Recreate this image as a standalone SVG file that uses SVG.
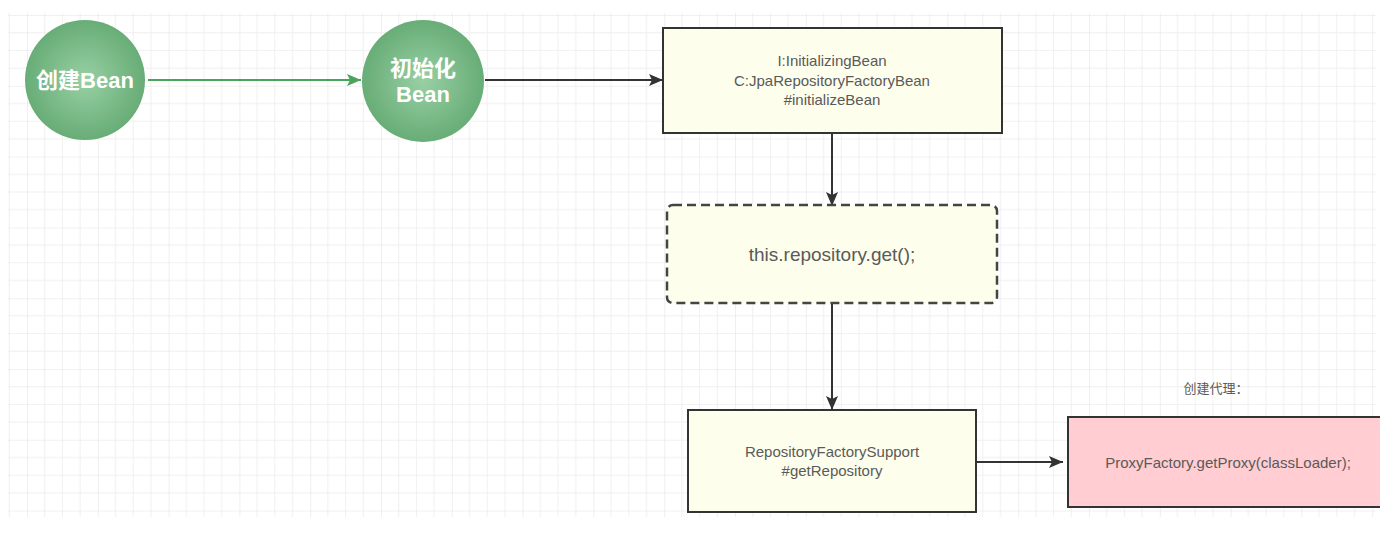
<svg xmlns="http://www.w3.org/2000/svg" width="1400" height="534" viewBox="0 0 1400 534">
  <defs>
    <pattern id="grid" patternUnits="userSpaceOnUse" x="27" y="15" width="70.8" height="70.8">
      <path d="M17.7 0V70.8M35.4 0V70.8M53.1 0V70.8M0 17.7H70.8M0 35.4H70.8M0 53.1H70.8" stroke="#f0f0f0" stroke-width="1" fill="none"/>
      <path d="M0 0V70.8M0 0H70.8" stroke="#e4e4e4" stroke-width="1.2" fill="none"/>
    </pattern>
    <radialGradient id="green" cx="50%" cy="50%" r="55%">
      <stop offset="0" stop-color="#98d0a4"/>
      <stop offset="1" stop-color="#63a972"/>
    </radialGradient>
    <marker id="ah" viewBox="0 0 14 12" refX="14" refY="6" markerWidth="14" markerHeight="12" markerUnits="userSpaceOnUse" orient="auto">
      <path d="M0 0L14 6L0 12L3 6z" fill="#333"/>
    </marker>
    <marker id="ahg" viewBox="0 0 14 12" refX="14" refY="6" markerWidth="14" markerHeight="12" markerUnits="userSpaceOnUse" orient="auto">
      <path d="M0 0L14 6L0 12L3 6z" fill="#4aa35a"/>
    </marker>
  </defs>
  <style>
    .circ { fill: url(#green); }
    .ctext { font-family: "Liberation Sans", "Noto Sans CJK SC", sans-serif; font-weight: bold; font-size: 22px; fill: #ffffff; text-anchor: middle; }
    .box { fill: #fefeec; stroke: #333; stroke-width: 2; }
    .dash { fill: #fefeec; stroke: #444; stroke-width: 2.5; stroke-dasharray: 9 5; }
    .t { font-family: "Liberation Sans", "Noto Sans CJK SC", sans-serif; font-size: 15px; fill: #5a5a5a; text-anchor: middle; }
    .conn { stroke: #333; stroke-width: 2; fill: none; marker-end: url(#ah); }
    .conng { stroke: #4aa35a; stroke-width: 2; fill: none; marker-end: url(#ahg); }
  </style>
  <rect width="1400" height="534" fill="#ffffff"/>
  <rect x="8" y="13" width="1368" height="504" fill="url(#grid)"/>

  <g id="connectors">
    <line class="conng" x1="148" y1="80" x2="361" y2="80"/>
    <line class="conn" x1="485" y1="80" x2="663" y2="80"/>
    <line class="conn" x1="832" y1="133" x2="832" y2="206"/>
    <line class="conn" x1="832" y1="304" x2="832" y2="410"/>
    <line class="conn" x1="976" y1="462" x2="1063" y2="462"/>
  </g>

  <g id="create-bean">
    <circle class="circ" cx="85" cy="80" r="60"/>
    <text class="ctext" x="85" y="88">创建Bean</text>
  </g>

  <g id="init-bean">
    <circle class="circ" cx="423" cy="81" r="61"/>
    <text class="ctext" x="423" y="76">初始化</text>
    <text class="ctext" x="423" y="102">Bean</text>
  </g>

  <g id="initializing-bean">
    <rect class="box" x="663" y="28" width="339" height="105"/>
    <text class="t" x="832" y="66">I:InitializingBean</text>
    <text class="t" x="832" y="86">C:JpaRepositoryFactoryBean</text>
    <text class="t" x="832" y="105">#initializeBean</text>
  </g>

  <g id="repository-get">
    <rect class="dash" x="667" y="205" width="330" height="98" rx="6"/>
    <text class="t" x="832" y="261" style="font-size:19px">this.repository.get();</text>
  </g>

  <g id="factory-support">
    <rect class="box" x="688" y="410" width="288" height="102"/>
    <text class="t" x="832" y="457">RepositoryFactorySupport</text>
    <text class="t" x="832" y="476">#getRepository</text>
  </g>

  <g id="proxy">
    <text class="t" x="1216" y="393" style="font-size:13px">创建代理：</text>
    <rect x="1068" y="417" width="312" height="90" fill="#ffcdd2"/>
    <path d="M1380 417H1068V507H1380" fill="none" stroke="#333" stroke-width="2"/>
    <text class="t" x="1228" y="468">ProxyFactory.getProxy(classLoader);</text>
  </g>
</svg>
